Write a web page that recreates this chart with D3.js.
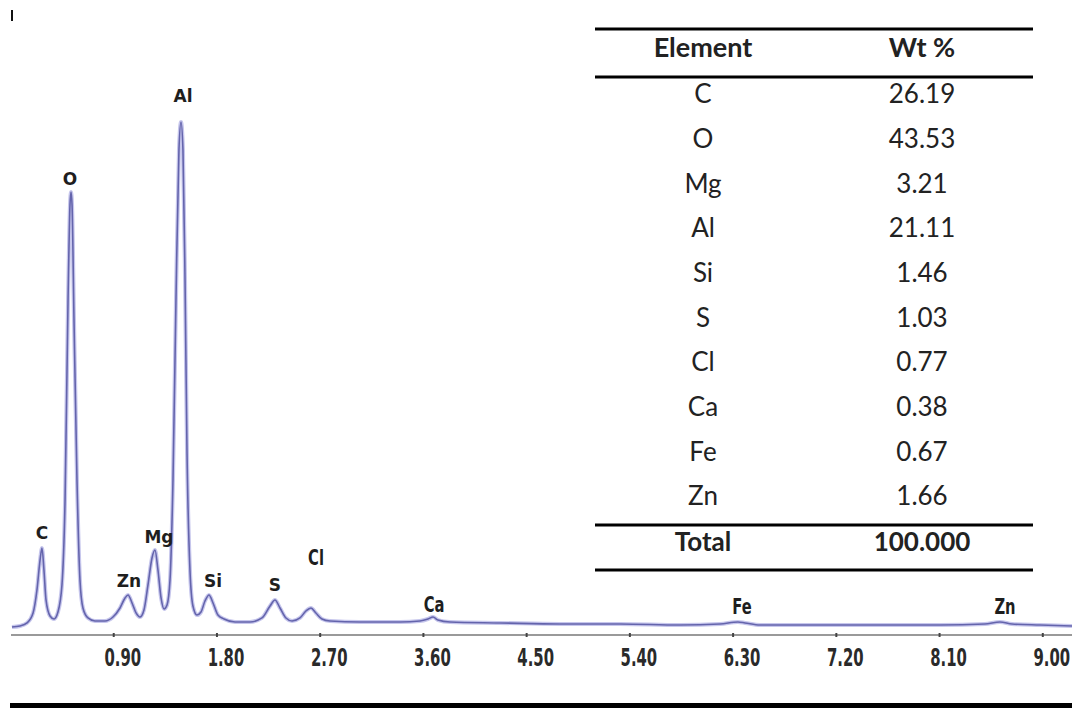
<!DOCTYPE html>
<html>
<head>
<meta charset="utf-8">
<script src="https://cdn.jsdelivr.net/npm/d3@7"></script>
<style>
  body { margin: 0; background: #fff; }
  svg { display: block; }
</style>
</head>
<body>
<div id="chart"></div>
<script>
// EDS spectrum: energy (keV) and counts
const energy = [0.017, 0.087, 0.148, 0.201, 0.235, 0.262, 0.279, 0.296, 0.314, 0.349,
  0.384, 0.418, 0.453, 0.480, 0.506, 0.523, 0.532, 0.541, 0.558, 0.584,
  0.610, 0.636, 0.680, 0.741, 0.828, 0.898, 0.959, 1.003, 1.029, 1.064,
  1.099, 1.133, 1.168, 1.203, 1.238, 1.264, 1.290, 1.317, 1.343, 1.369,
  1.395, 1.421, 1.447, 1.473, 1.491, 1.508, 1.526, 1.543, 1.569, 1.595,
  1.630, 1.665, 1.700, 1.735, 1.770, 1.813, 1.866, 1.962, 2.092, 2.197,
  2.267, 2.310, 2.354, 2.406, 2.459, 2.528, 2.580, 2.624, 2.667, 2.720,
  2.790, 3.051, 3.400, 3.574, 3.644, 3.688, 3.731, 3.836, 4.272, 4.795,
  5.318, 5.841, 6.190, 6.347, 6.408, 6.539, 7.062, 7.585, 8.108, 8.500,
  8.631, 8.736, 8.980, 9.259];
const counts = [48, 58, 87, 183, 404, 692, 808, 596, 308, 154,
  125, 192, 452, 1269, 3192, 4106, 4231, 4106, 3000, 1462,
  500, 231, 135, 106, 106, 144, 231, 327, 356, 279,
  183, 144, 212, 452, 712, 788, 596, 327, 221, 260,
  500, 1462, 3192, 4635, 4904, 4635, 3385, 1750, 596, 250,
  163, 192, 298, 356, 279, 163, 125, 96, 96, 135,
  250, 308, 231, 135, 106, 135, 202, 231, 183, 125,
  106, 96, 96, 106, 125, 144, 115, 96, 87, 77,
  77, 67, 77, 96, 87, 67, 67, 67, 67, 77,
  96, 77, 67, 58];

// peak labels: element, energy (keV), counts level of the label baseline
const peakNames  = ["C", "O", "Al", "Mg", "Zn", "Si", "S", "Cl", "Ca", "Fe", "Zn"];
const peakEnergy = [0.279, 0.523, 1.508, 1.299, 1.037, 1.770, 2.310, 2.668, 3.697, 6.382, 8.675];
const peakLevel  = [894, 4298, 5096, 856, 433, 433, 394, 644, 192, 173, 173];

const tickValues = [0.9, 1.8, 2.7, 3.6, 4.5, 5.4, 6.3, 7.2, 8.1, 9.0];

// composition table
const tableElements = ["C", "O", "Mg", "Al", "Si", "S", "Cl", "Ca", "Fe", "Zn"];
const tableWt = ["26.19", "43.53", "3.21", "21.11", "1.46", "1.03", "0.77", "0.38", "0.67", "1.66"];
const tableTotal = "100.000";

const width = 1072;
const height = 708;

const x = d3.scaleLinear().domain([0, 9.259]).range([10, 1072]);
const y = d3.scaleLinear().domain([0, 5000]).range([632, 112]);

const narrowFont = "'DejaVu Sans Condensed', 'DejaVu Sans', sans-serif";

const svg = d3.select("#chart")
  .append("svg")
    .attr("width", width)
    .attr("height", height)
    .attr("viewBox", [0, 0, width, height]);

svg.append("rect").attr("width", width).attr("height", height).attr("fill", "#fff");

// little mark top left and the black rule at the bottom
svg.append("rect").attr("x", 11).attr("y", 10).attr("width", 2).attr("height", 11).attr("fill", "#111");
svg.append("rect").attr("x", 10).attr("y", 703).attr("width", width - 10).attr("height", 5).attr("fill", "#000");

// x axis
const axis = svg.append("g")
  .attr("transform", "translate(0,635)")
  .call(d3.axisBottom(x).tickValues(tickValues).tickSize(3).tickSizeOuter(0).tickFormat(d3.format(".2f")));

axis.select(".domain")
  .attr("d", `M11,0H${width}`)
  .attr("stroke", "#9a9a9a")
  .attr("stroke-width", 2);

axis.selectAll(".tick line")
  .attr("y1", -2)
  .attr("y2", 2)
  .attr("stroke", "#444")
  .attr("stroke-width", 2);

// squeezed bold digits, like the instrument's font
axis.selectAll(".tick text")
  .attr("x", null)
  .attr("y", null)
  .attr("dy", null)
  .attr("transform", "translate(9,31) scale(0.66,1)")
  .attr("fill", "#2a2a2a")
  .attr("font-family", narrowFont)
  .attr("font-weight", "bold")
  .attr("font-size", 25);

// spectrum
const pts = energy.map((e, i) => [e, counts[i]]);
const line = d3.line()
  .x(d => x(d[0]))
  .y(d => y(d[1]))
  .curve(d3.curveMonotoneX);

svg.append("path")
  .datum(pts)
  .attr("fill", "none")
  .attr("stroke", "#c6c6ec")
  .attr("stroke-width", 4)
  .attr("stroke-linejoin", "round")
  .attr("d", line);

svg.append("path")
  .datum(pts)
  .attr("fill", "none")
  .attr("stroke", "#6464ac")
  .attr("stroke-width", 1.6)
  .attr("stroke-linejoin", "round")
  .attr("d", line);

// peak labels (the far ones use the squeezed font)
svg.append("g")
  .selectAll("text")
  .data(peakNames)
  .join("text")
    .attr("transform", (d, i) => `translate(${x(peakEnergy[i])},${y(peakLevel[i])})` + (i >= 7 ? " scale(0.78,1)" : ""))
    .attr("text-anchor", "middle")
    .attr("fill", "#1e1e1e")
    .attr("font-weight", "bold")
    .attr("font-family", (d, i) => i >= 7 ? narrowFont : "'DejaVu Sans', sans-serif")
    .attr("font-size", (d, i) => i >= 7 ? 21 : 17)
    .text(d => d);

// table
const colEl = 703;
const colWt = 922;
const rowY = d3.scalePoint().domain(tableElements).range([94, 496]);

const table = svg.append("g")
  .attr("font-family", "Lato, 'Open Sans', sans-serif")
  .attr("text-anchor", "middle")
  .attr("fill", "#222");

[29, 77, 525, 570].forEach(ly => {
  table.append("line")
    .attr("x1", 595).attr("x2", 1033)
    .attr("y1", ly).attr("y2", ly)
    .attr("stroke", "#000")
    .attr("stroke-width", 3);
});

table.append("text").attr("x", colEl).attr("y", 47).attr("dy", "0.36em")
  .attr("font-weight", "bold").attr("font-size", 27).text("Element");
table.append("text").attr("x", colWt).attr("y", 47).attr("dy", "0.36em")
  .attr("font-weight", "bold").attr("font-size", 27).text("Wt %");

table.selectAll(".el")
  .data(tableElements)
  .join("text")
    .attr("class", "el")
    .attr("x", colEl)
    .attr("y", d => rowY(d))
    .attr("dy", "0.36em")
    .attr("font-size", 26)
    .text(d => d);

table.selectAll(".wt")
  .data(tableWt)
  .join("text")
    .attr("class", "wt")
    .attr("x", colWt)
    .attr("y", (d, i) => rowY(tableElements[i]))
    .attr("dy", "0.36em")
    .attr("font-size", 26)
    .text(d => d);

table.append("text").attr("x", colEl).attr("y", 542).attr("dy", "0.36em")
  .attr("font-weight", "bold").attr("font-size", 26).text("Total");
table.append("text").attr("x", colWt).attr("y", 542).attr("dy", "0.36em")
  .attr("font-weight", "bold").attr("font-size", 26).text(tableTotal);
</script>
</body>
</html>
